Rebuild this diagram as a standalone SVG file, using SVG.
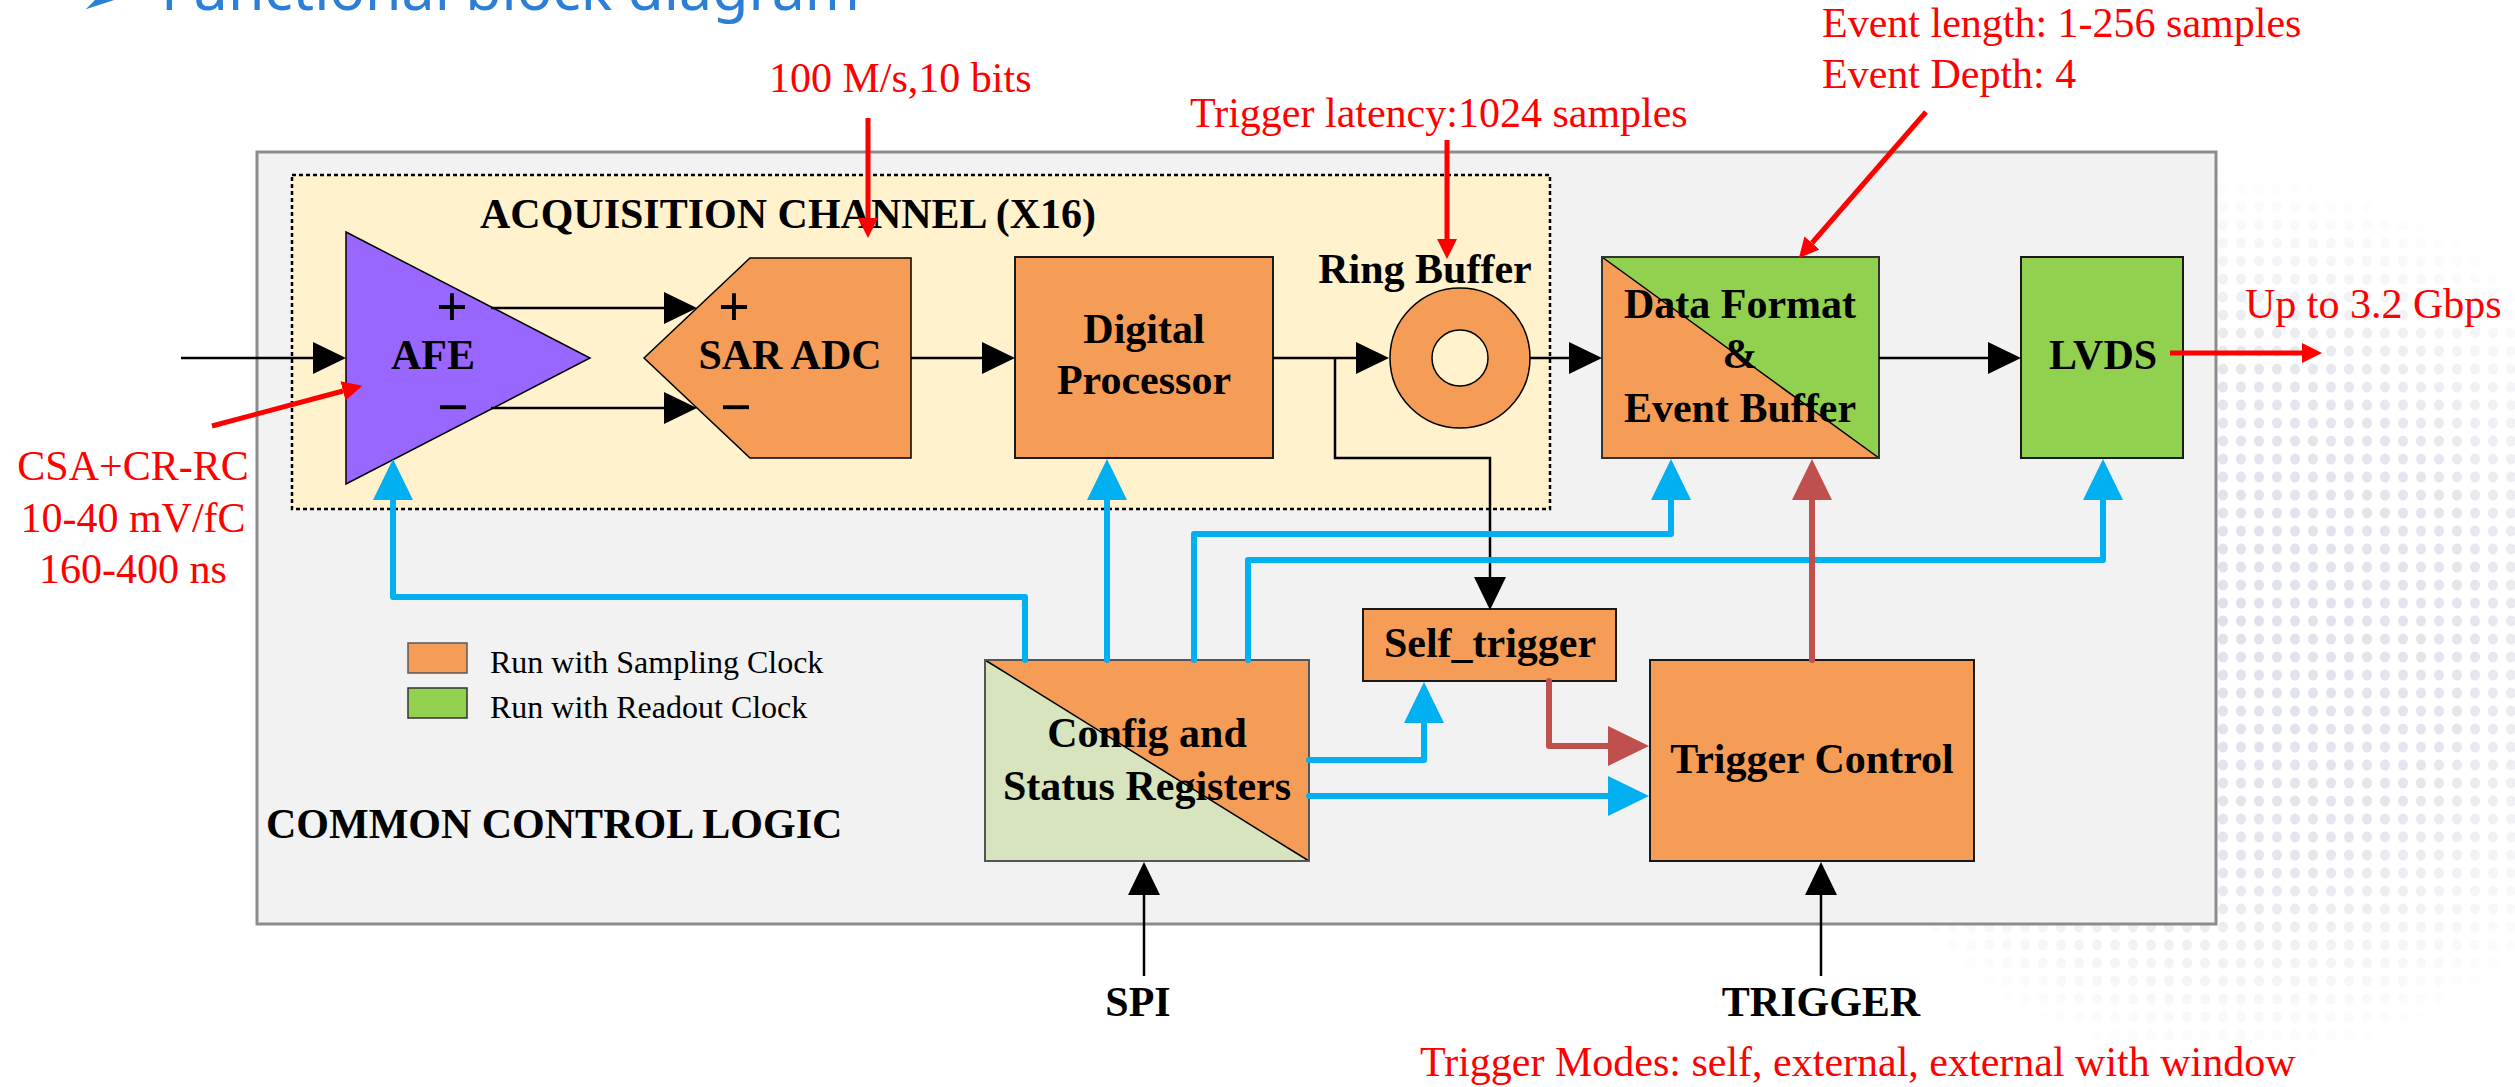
<svg xmlns="http://www.w3.org/2000/svg" width="2515" height="1087" viewBox="0 0 2515 1087">
  <defs>
    <style>
      .frame{stroke:#1a1a1a;stroke-width:2}
      .org{fill:#F59D56}
      .grn{fill:#92D050}
      .lgrn{fill:#D7E4BD}
      .diag{stroke:#000;stroke-width:1.5;fill:none}
      .lbl{font-family:"Liberation Serif","Times New Roman",serif;font-weight:bold;font-size:42px;fill:#000;text-anchor:middle}
      .lbl-l{font-family:"Liberation Serif","Times New Roman",serif;font-weight:bold;font-size:42px;fill:#000}
      .sym{font-family:"Liberation Serif","Times New Roman",serif;font-weight:bold;font-size:56px;fill:#000;text-anchor:middle}
      .note{font-family:"Liberation Serif","Times New Roman",serif;font-size:42px;fill:#FF0000}
      .note-c{font-family:"Liberation Serif","Times New Roman",serif;font-size:42px;fill:#FF0000;text-anchor:middle}
      .leg{font-family:"Liberation Serif","Times New Roman",serif;font-size:32px;fill:#000}
      .sig{fill:none;stroke:#000;stroke-width:2.5}
      .cfg{fill:none;stroke:#00B0F0;stroke-width:6;stroke-linecap:round;stroke-linejoin:round}
      .trg{fill:none;stroke:#C0504D;stroke-width:6;stroke-linecap:round;stroke-linejoin:round}
      .ann{fill:none;stroke:#FF0000;stroke-width:5}
      .title{font-family:"Noto Sans","Open Sans",sans-serif;font-size:59px;fill:#2B7FD7}
    </style>
    <marker id="hBlack" markerUnits="userSpaceOnUse" markerWidth="34" markerHeight="32" refX="0" refY="16" orient="auto">
      <path d="M0,0 L33,16 L0,32 Z" fill="#000"/>
    </marker>
    <marker id="hBlue" markerUnits="userSpaceOnUse" markerWidth="42" markerHeight="40" refX="0" refY="20" orient="auto">
      <path d="M0,0 L41,20 L0,40 Z" fill="#00B0F0"/>
    </marker>
    <marker id="hBrown" markerUnits="userSpaceOnUse" markerWidth="42" markerHeight="40" refX="0" refY="20" orient="auto">
      <path d="M0,0 L41,20 L0,40 Z" fill="#C0504D"/>
    </marker>
    <marker id="hRed" markerUnits="userSpaceOnUse" markerWidth="21" markerHeight="20" refX="0" refY="10" orient="auto">
      <path d="M0,0 L20,10 L0,20 Z" fill="#FF0000"/>
    </marker>
    <pattern id="dotGrid" width="18" height="18" patternUnits="userSpaceOnUse">
      <ellipse cx="9" cy="9" rx="5" ry="5.5" fill="#DFE2EB"/>
    </pattern>
    <radialGradient id="dotFade" cx="2230" cy="620" r="450" gradientUnits="userSpaceOnUse">
      <stop offset="0" stop-color="#fff"/>
      <stop offset="0.55" stop-color="#fff" stop-opacity="0.85"/>
      <stop offset="1" stop-color="#fff" stop-opacity="0"/>
    </radialGradient>
    <mask id="dotMask">
      <rect x="1600" y="150" width="915" height="937" fill="url(#dotFade)"/>
    </mask>
  </defs>

  <!-- page background with halftone decoration -->
  <rect x="0" y="0" width="2515" height="1087" fill="#FFFFFF"/>
  <rect x="1600" y="150" width="915" height="937" fill="url(#dotGrid)" mask="url(#dotMask)"/>

  <!-- slide heading -->
  <g id="heading">
    <text x="80" y="14" font-family="DejaVu Sans,sans-serif" font-size="52" fill="#2B7FD7">➢</text>
    <text class="title" x="161" y="10">Functional block diagram</text>
  </g>

  <!-- outer container: common control logic -->
  <g id="common-control">
    <rect x="257" y="152" width="1959" height="772" fill="#F2F2F2" stroke="#8C8C8C" stroke-width="3"/>
    <text class="lbl-l" x="266" y="838">COMMON CONTROL LOGIC</text>
  </g>

  <!-- acquisition channel region -->
  <g id="acq-channel">
    <rect x="292" y="175" width="1258" height="334" fill="#FFF2CC" stroke="#000" stroke-width="2.5" stroke-dasharray="4 3"/>
    <text class="lbl-l" x="480" y="228">ACQUISITION CHANNEL (X16)</text>
  </g>

  <!-- legend -->
  <g id="legend">
    <rect class="org" x="408" y="643" width="59" height="30" stroke="#595959" stroke-width="1.5"/>
    <text class="leg" x="490" y="673">Run with Sampling Clock</text>
    <rect class="grn" x="408" y="688" width="59" height="30" stroke="#333" stroke-width="1.5"/>
    <text class="leg" x="490" y="718">Run with Readout Clock</text>
  </g>

  <!-- nodes -->
  <g id="afe">
    <polygon points="346,232 590,358 346,484" fill="#9966FF" stroke="#000" stroke-width="1.5"/>
    <text class="sym" x="452" y="326">+</text>
    <text class="sym" x="453" y="426">−</text>
    <text class="lbl" x="433" y="369">AFE</text>
  </g>

  <g id="sar-adc">
    <polygon class="org" points="644,358 750,258 911,258 911,458 750,458" stroke="#000" stroke-width="1.5"/>
    <text class="sym" x="734" y="326">+</text>
    <text class="sym" x="736" y="426">−</text>
    <text class="lbl" x="790" y="369">SAR ADC</text>
  </g>

  <g id="digital-processor">
    <rect class="org frame" x="1015" y="257" width="258" height="201"/>
    <text class="lbl" x="1144" y="343">Digital</text>
    <text class="lbl" x="1144" y="394">Processor</text>
  </g>

  <g id="ring-buffer">
    <text class="lbl" x="1425" y="283">Ring Buffer</text>
    <circle class="org" cx="1460" cy="358" r="70" stroke="#000" stroke-width="1.5"/>
    <circle cx="1460" cy="358" r="28" fill="#FFF2CC" stroke="#000" stroke-width="1.5"/>
  </g>

  <g id="data-format">
    <rect class="org" x="1602" y="257" width="277" height="201"/>
    <polygon class="grn" points="1602,257 1879,257 1879,458"/>
    <line class="diag" x1="1602" y1="257" x2="1879" y2="458"/>
    <rect x="1602" y="257" width="277" height="201" fill="none" stroke="#333" stroke-width="2"/>
    <text class="lbl" x="1740" y="318">Data Format</text>
    <text class="lbl" x="1740" y="368">&amp;</text>
    <text class="lbl" x="1740" y="422">Event Buffer</text>
  </g>

  <g id="lvds">
    <rect class="grn frame" x="2021" y="257" width="162" height="201"/>
    <text class="lbl" x="2103" y="369">LVDS</text>
  </g>

  <g id="self-trigger">
    <rect class="org frame" x="1363" y="609" width="253" height="72"/>
    <text class="lbl" x="1490" y="657">Self_trigger</text>
  </g>

  <g id="config-status">
    <rect class="org" x="985" y="660" width="324" height="201"/>
    <polygon class="lgrn" points="985,660 985,861 1309,861"/>
    <line class="diag" x1="985" y1="660" x2="1309" y2="861"/>
    <rect x="985" y="660" width="324" height="201" fill="none" stroke="#555" stroke-width="2"/>
    <text class="lbl" x="1147" y="747">Config and</text>
    <text class="lbl" x="1147" y="800">Status Registers</text>
  </g>

  <g id="trigger-control">
    <rect class="org frame" x="1650" y="660" width="324" height="201"/>
    <text class="lbl" x="1812" y="773">Trigger Control</text>
  </g>

  <g id="io-labels">
    <text class="lbl" x="1138" y="1016">SPI</text>
    <text class="lbl" x="1821" y="1016">TRIGGER</text>
  </g>

  <!-- connectors -->
  <g id="connectors">
    <!-- data path -->
    <path class="sig" d="M181,358 H313" marker-end="url(#hBlack)"/>
    <path class="sig" d="M491,308 H664" marker-end="url(#hBlack)"/>
    <path class="sig" d="M491,408 H664" marker-end="url(#hBlack)"/>
    <path class="sig" d="M911,358 H982" marker-end="url(#hBlack)"/>
    <path class="sig" d="M1273,358 H1356" marker-end="url(#hBlack)"/>
    <path class="sig" d="M1335,358 V458 H1490 V577" marker-end="url(#hBlack)"/>
    <path class="sig" d="M1530,358 H1569" marker-end="url(#hBlack)"/>
    <path class="sig" d="M1879,358 H1988" marker-end="url(#hBlack)"/>
    <path class="sig" d="M1144,976 V895" marker-end="url(#hBlack)"/>
    <path class="sig" d="M1821,976 V895" marker-end="url(#hBlack)"/>

    <!-- configuration buses -->
    <path class="cfg" d="M1025,660 V597 H393 V500" marker-end="url(#hBlue)"/>
    <path class="cfg" d="M1107,660 V500" marker-end="url(#hBlue)"/>
    <path class="cfg" d="M1194,660 V534 H1671 V500" marker-end="url(#hBlue)"/>
    <path class="cfg" d="M1248,660 V560 H2103 V500" marker-end="url(#hBlue)"/>
    <path class="cfg" d="M1309,760 H1424 V723" marker-end="url(#hBlue)"/>
    <path class="cfg" d="M1309,796 H1608" marker-end="url(#hBlue)"/>

    <!-- trigger path -->
    <path class="trg" d="M1549,681 V746 H1608" marker-end="url(#hBrown)"/>
    <path class="trg" d="M1812,660 V500" marker-end="url(#hBrown)"/>
  </g>

  <!-- annotations -->
  <g id="annotations">
    <text class="note" x="769" y="92">100 M/s,10 bits</text>
    <path class="ann" d="M868,118 V218" marker-end="url(#hRed)"/>
    <text class="note" x="1190" y="127">Trigger latency:1024 samples</text>
    <path class="ann" d="M1447,140 V239" marker-end="url(#hRed)"/>
    <text class="note" x="1822" y="37">Event length: 1-256 samples</text>
    <text class="note" x="1822" y="88">Event Depth: 4</text>
    <path class="ann" d="M1926,112 L1812,243" marker-end="url(#hRed)"/>
    <path class="ann" d="M2170,353 H2302" marker-end="url(#hRed)"/>
    <text class="note" x="2245" y="318">Up to 3.2 Gbps</text>
    <path class="ann" d="M212,426 L343,391" stroke-width="6" marker-end="url(#hRed)"/>
    <text class="note-c" x="133" y="480">CSA+CR-RC</text>
    <text class="note-c" x="133" y="532">10-40 mV/fC</text>
    <text class="note-c" x="133" y="583">160-400 ns</text>
    <text class="note" x="1420" y="1076">Trigger Modes: self, external, external with window</text>
  </g>
</svg>
